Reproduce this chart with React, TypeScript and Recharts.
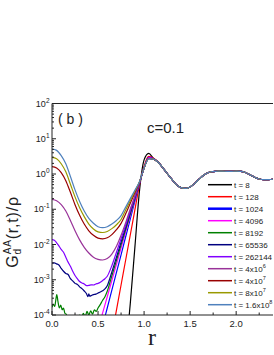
import React from "react";
import { Line, LineChart, XAxis, YAxis } from "recharts";

const FONT = '"Liberation Sans", Arial, sans-serif';
const INK = "#222";

// r grids and G values (values below 1e-4 are clipped by the axis)
const R_SMOOTH = [0, 0.05, 0.1, 0.15, 0.2, 0.25, 0.3, 0.35, 0.4, 0.45, 0.5, 0.55, 0.6, 0.65, 0.7, 0.75, 0.8, 0.85, 0.9, 0.95, 1.0, 1.05, 1.1];
const G_1_6E8 = [5.13, 4.68, 3.31, 1.95, 0.85, 0.355, 0.166, 0.089, 0.055, 0.04, 0.032, 0.03, 0.032, 0.038, 0.048, 0.066, 0.115, 0.2, 0.347, 0.6, 1.48, 2.69, 2.63];
const G_8E7 = [2.95, 2.69, 1.95, 1.15, 0.513, 0.224, 0.11, 0.0617, 0.038, 0.0275, 0.0229, 0.0219, 0.0234, 0.0282, 0.0363, 0.0513, 0.0955, 0.174, 0.324, 0.603, 1.48, 2.75, 2.63];
const G_4E7 = [1.62, 1.48, 1.1, 0.646, 0.302, 0.135, 0.0676, 0.038, 0.0245, 0.0182, 0.0151, 0.0145, 0.0155, 0.0191, 0.0263, 0.0398, 0.0741, 0.148, 0.295, 0.589, 1.48, 2.75, 2.63];
const G_4E6 = [0.191, 0.174, 0.135, 0.0891, 0.0479, 0.0245, 0.0135, 0.00832, 0.00575, 0.00437, 0.0038, 0.00363, 0.00398, 0.00537, 0.00891, 0.0182, 0.0417, 0.102, 0.24, 0.575, 1.48, 2.75, 2.63];

const R_262144 = [0, 0.025, 0.05, 0.075, 0.1, 0.125, 0.15, 0.175, 0.2, 0.225, 0.25, 0.275, 0.3, 0.325, 0.35, 0.375, 0.4, 0.425, 0.45, 0.475, 0.5, 0.525, 0.55, 0.575, 0.6, 0.65, 0.7, 0.75, 0.8, 0.85, 0.9, 0.95, 1.0, 1.05, 1.1];
const G_262144 = [0.0138, 0.0132, 0.0112, 0.00912, 0.00724, 0.00603, 0.00437, 0.00316, 0.0024, 0.00174, 0.00132, 0.00107, 8.9e-4, 8.1e-4, 7.6e-4, 6.8e-4, 6.9e-4, 7.2e-4, 7.1e-4, 7.6e-4, 7.9e-4, 8.5e-4, 9.5e-4, 1.07e-3, 1.26e-3, 2.51e-3, 6.03e-3, 0.0145, 0.0355, 0.0891, 0.224, 0.562, 1.48, 2.75, 2.63];

const R_65536 = [0, 0.025, 0.05, 0.075, 0.1, 0.125, 0.15, 0.175, 0.2, 0.225, 0.25, 0.275, 0.3, 0.325, 0.35, 0.375, 0.39, 0.4, 0.41, 0.425, 0.45, 0.475, 0.5, 0.525, 0.55, 0.575, 0.6, 0.65, 0.7, 0.75, 0.8, 0.85, 0.9, 0.95, 1.0, 1.05, 1.1];
const G_65536 = [2.95e-3, 3.02e-3, 2.82e-3, 2.63e-3, 2.09e-3, 1.74e-3, 1.51e-3, 1.41e-3, 1.07e-3, 9.3e-4, 7.9e-4, 7.4e-4, 6.3e-4, 5.6e-4, 4.8e-4, 4.0e-4, 3.3e-4, 4.0e-4, 3.4e-4, 3.55e-4, 3.8e-4, 3.9e-4, 4.2e-4, 4.5e-4, 4.9e-4, 5.5e-4, 6.8e-4, 1.66e-3, 4.37e-3, 0.0117, 0.0309, 0.0813, 0.214, 0.562, 1.48, 2.75, 2.63];

const R_8192 = [0, 0.015, 0.03, 0.04, 0.052, 0.065, 0.08, 0.095, 0.11, 0.125, 0.14, 0.155, 0.17, 0.2, 0.225, 0.25, 0.275, 0.3, 0.32, 0.34, 0.36, 0.38, 0.4, 0.42, 0.44, 0.46, 0.48, 0.5, 0.525, 0.55, 0.575, 0.6, 0.65, 0.7, 0.75, 0.8, 0.85, 0.9, 0.95, 1.0, 1.05, 1.1];
const G_8192 = [1.66e-4, 2.0e-4, 1.74e-4, 2.51e-4, 3.8e-4, 2.4e-4, 1.58e-4, 1.9e-4, 1.41e-4, 1.58e-4, 1.12e-4, 1.05e-4, 7.9e-5, 8.9e-5, 6.3e-5, 8.9e-5, 7.1e-5, 1.0e-4, 7.9e-5, 1.12e-4, 8.9e-5, 1.26e-4, 1.0e-4, 1.32e-4, 1.05e-4, 1.41e-4, 1.26e-4, 1.58e-4, 2.0e-4, 2.63e-4, 3.3e-4, 4.7e-4, 1.29e-3, 3.55e-3, 9.8e-3, 0.0263, 0.0724, 0.2, 0.55, 1.48, 2.75, 2.63];

const R_4096 = [0.5, 0.55, 0.6, 0.65, 0.7, 0.75, 0.8, 0.85, 0.9, 0.95, 1.0, 1.05, 1.1];
const G_4096 = [4.0e-5, 1.15e-4, 3.3e-4, 9.5e-4, 2.75e-3, 7.9e-3, 0.0229, 0.066, 0.191, 0.55, 1.51, 2.88, 2.69];
const R_1024 = [0.55, 0.6, 0.65, 0.7, 0.75, 0.8, 0.85, 0.9, 0.95, 1.0, 1.05, 1.1];
const G_1024 = [5.0e-5, 1.58e-4, 5.1e-4, 1.62e-3, 5.1e-3, 0.0166, 0.0525, 0.17, 0.537, 1.51, 2.95, 2.75];
const R_128 = [0.65, 0.7, 0.75, 0.8, 0.85, 0.9, 0.95, 1.0, 1.05, 1.1];
const G_128 = [2.7e-5, 1.38e-4, 7.1e-4, 3.63e-3, 0.0186, 0.0955, 0.49, 1.66, 3.16, 2.82];
const R_8 = [0.8, 0.85, 0.9, 0.95, 1.0, 1.05, 1.1];
const G_8 = [7.9e-6, 2.1e-4, 8.3e-3, 0.331, 2.51, 3.85, 2.82];

// shared part beyond the first peak
const TAIL_R = [1.15, 1.2, 1.25, 1.3, 1.35, 1.4, 1.45, 1.5, 1.55, 1.6, 1.65, 1.7, 1.75, 1.8, 1.85, 1.9, 1.95, 2.0, 2.05, 2.1, 2.15, 2.2, 2.25, 2.3, 2.35, 2.4];
const TAIL_G = [2.19, 1.55, 1.05, 0.71, 0.5, 0.41, 0.39, 0.43, 0.54, 0.72, 0.93, 1.1, 1.17, 1.2, 1.2, 1.19, 1.19, 1.2, 1.19, 1.1, 0.95, 0.81, 0.72, 0.69, 0.69, 0.71];

const X_MAJOR = [0, 0.5, 1.0, 1.5, 2.0];
const X_MINOR = [0.25, 0.75, 1.25, 1.75, 2.25];
const Y_DECADES = [-4, -3, -2, -1, 0, 1, 2];
const Y_MINOR_MULT = [2, 3, 4, 5, 6, 7, 8, 9];

type Series = { label: string; exp?: string; color: string; width: number; r: number[]; g: number[] };

const SERIES: Series[] = [
  { label: "t = 8", color: "#000000", width: 1.2, r: R_8, g: G_8 },
  { label: "t = 128", color: "#ff0000", width: 1.2, r: R_128, g: G_128 },
  { label: "t = 1024", color: "#0000ff", width: 1.2, r: R_1024, g: G_1024 },
  { label: "t = 4096", color: "#ff00ff", width: 1.2, r: R_4096, g: G_4096 },
  { label: "t = 8192", color: "#008000", width: 1.2, r: R_8192, g: G_8192 },
  { label: "t = 65536", color: "#000080", width: 1.2, r: R_65536, g: G_65536 },
  { label: "t = 262144", color: "#8000ff", width: 1.2, r: R_262144, g: G_262144 },
  { label: "t = 4x10", exp: "6", color: "#993399", width: 1.2, r: R_SMOOTH, g: G_4E6 },
  { label: "t = 4x10", exp: "7", color: "#990000", width: 1.2, r: R_SMOOTH, g: G_4E7 },
  { label: "t = 8x10", exp: "7", color: "#999900", width: 1.2, r: R_SMOOTH, g: G_8E7 },
  { label: "t = 1.6x10", exp: "8", color: "#4f81bd", width: 1.2, r: R_SMOOTH, g: G_1_6E8 },
];

const X_TICKS = [...X_MAJOR, ...X_MINOR].sort((a, b) => a - b);
const Y_TICKS = Y_DECADES.flatMap((d, i) =>
  i === Y_DECADES.length - 1 ? [10 ** d] : [10 ** d, ...Y_MINOR_MULT.map((m) => m * 10 ** d)]
);
const isDecade = (v: number) => Math.abs(Math.log10(v) - Math.round(Math.log10(v))) < 1e-6;

function BottomTick({ x, y, payload }: any) {
  const major = X_MAJOR.includes(payload.value);
  return (
    <g>
      <line x1={x} x2={x} y1={y} y2={y - (major ? 4 : 2.5)} stroke={INK} />
      {major && (
        <text x={x} y={y + 12} textAnchor="middle" fontSize={9.5} fontFamily={FONT} fill={INK}>
          {payload.value.toFixed(1)}
        </text>
      )}
    </g>
  );
}

function TopTick({ x, y, payload }: any) {
  const major = X_MAJOR.includes(payload.value);
  return <line x1={x} x2={x} y1={y} y2={y + (major ? 4 : 2.5)} stroke={INK} />;
}

function LeftTick({ x, y, payload }: any) {
  const major = isDecade(payload.value);
  const exp = Math.round(Math.log10(payload.value));
  return (
    <g>
      <line x1={x} x2={x + (major ? 4 : 2)} y1={y} y2={y} stroke={INK} />
      {major && (
        <text x={x - 2.5} y={y + 3} textAnchor="end" fontSize={9} fontFamily={FONT} fill={INK}>
          10<tspan fontSize={6.5} dy={-4}>{exp}</tspan>
        </text>
      )}
    </g>
  );
}

export default function App() {
  const lines = SERIES.map((s) => ({
    ...s,
    data: [...s.r.map((r, i) => ({ r, g: s.g[i] })), ...TAIL_R.map((r, i) => ({ r, g: TAIL_G[i] }))],
  }));

  return (
    <div style={{ position: "absolute", left: 0, top: 0, width: 274, height: 355, background: "#fff" }}>
      <LineChart width={274} height={355} margin={{ top: 93.5, right: 1, bottom: 0, left: 0 }}>
        <XAxis
          dataKey="r"
          type="number"
          domain={[0, 2.4]}
          allowDataOverflow
          ticks={X_TICKS}
          interval={0}
          tickSize={0}
          tickMargin={0}
          tickLine={false}
          tick={BottomTick}
          height={40}
          stroke={INK}
        />
        <XAxis
          xAxisId="top"
          orientation="top"
          type="number"
          domain={[0, 2.4]}
          allowDataOverflow
          ticks={X_TICKS}
          interval={0}
          tickSize={0}
          tickMargin={0}
          tickLine={false}
          tick={TopTick}
          height={10}
          stroke={INK}
        />
        <YAxis
          type="number"
          scale="log"
          domain={[1e-4, 100]}
          allowDataOverflow
          ticks={Y_TICKS}
          interval={0}
          tickSize={0}
          tickMargin={0}
          tickLine={false}
          tick={LeftTick}
          width={52}
          stroke={INK}
        />
        {lines.map((s, i) => (
          <Line
            key={i}
            data={s.data}
            dataKey="g"
            type="monotone"
            stroke={s.color}
            strokeWidth={s.width}
            dot={false}
            isAnimationActive={false}
          />
        ))}
      </LineChart>

      <svg width={274} height={355} style={{ position: "absolute", left: 0, top: 0, pointerEvents: "none" }}>
        <text x={58} y={123.5} fontSize={14} fontFamily={FONT} fill={INK}>( b )</text>
        <text x={147} y={133} fontSize={15} fontFamily={FONT} fill={INK}>c=0.1</text>
        <text
          transform="translate(18,232) rotate(-90)"
          textAnchor="middle"
          fontSize={16}
          letterSpacing={0.8}
          fontFamily={FONT}
          fill={INK}
        >
          G<tspan fontSize={10} dy={3}>d</tspan>
          <tspan fontSize={10} dx={-6} dy={-10}>AA</tspan>
          <tspan dy={7}>(r,t)/ρ</tspan>
        </text>
        <text x={152} y={345} textAnchor="middle" fontSize={24} fontFamily='"Liberation Serif", serif' fill={INK}>r</text>
        {SERIES.map((s, i) => {
          const cy = 184.7 + i * 12;
          return (
            <g key={i}>
              <line x1={208} x2={232} y1={cy} y2={cy} stroke={s.color} strokeWidth={i === 2 ? 2.5 : 1.5} />
              <text x={234} y={cy + 3} fontSize={8} fontFamily={FONT} fill={INK}>
                {s.label}
                {s.exp && <tspan fontSize={5.5} dy={-3.5}>{s.exp}</tspan>}
              </text>
            </g>
          );
        })}
      </svg>
    </div>
  );
}
